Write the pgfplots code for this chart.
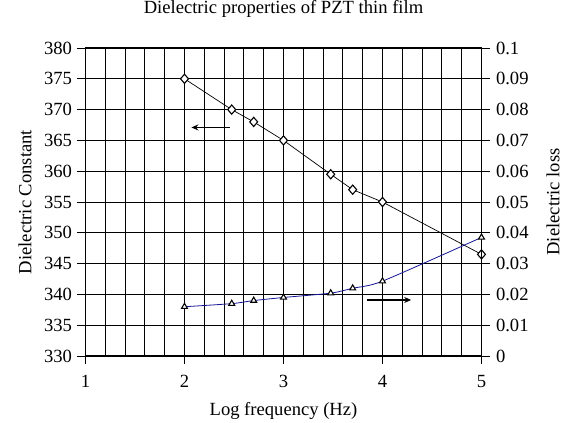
\documentclass[border=0pt]{standalone}
\usepackage{pgfplots}
\pgfplotsset{compat=1.18}
\usepackage{fontspec}
\setmainfont{Liberation Serif}
\usetikzlibrary{arrows.meta}
\definecolor{lossblue}{RGB}{20,20,150}
\begin{document}
\begin{tikzpicture}[font=\fontsize{18.6}{21}\selectfont]
\path[use as bounding box] (-85.5pt,-67pt) rectangle (482.5pt,356pt);
\begin{axis}[
  at={(0pt,0pt)}, anchor=south west,
  scale only axis, width=396pt, height=308pt,
  xmin=1, xmax=5, ymin=330, ymax=380,
  xtick={1,2,3,4,5},
  minor xtick={1.2,1.4,1.6,1.8,2.2,2.4,2.6,2.8,3.2,3.4,3.6,3.8,4.2,4.4,4.6,4.8},
  ytick={330,335,...,380},
  xtick pos=bottom, ytick pos=left,
  tick align=outside, major tick length=8pt, minor tick length=0pt,
  grid=both,
  major grid style={black, line width=0.8pt},
  minor grid style={black, line width=0.8pt},
  axis line style={black, line width=1.3pt},
  tick style={black, line width=0.9pt},
  /pgf/number format/assume math mode=true,
  xticklabel style={yshift=-8pt},
  yticklabel style={xshift=-2pt},
  clip=false,
  title={Dielectric properties of PZT thin film},
  title style={at={(axis description cs:0.5,1.107)}, anchor=center},
  xlabel={Log frequency (Hz)},
  xlabel style={at={(axis description cs:0.5,-0.1786)}, anchor=center},
  ylabel={Dielectric Constant},
  ylabel style={at={(axis description cs:-0.1528,0.5)}, anchor=center},
]
\addplot[black, line width=0.7pt, mark=diamond*, mark size=4.6pt,
  mark options={fill=white, line width=1.1pt, xscale=1.15}]
  coordinates {(2,375) (2.477,370) (2.699,368) (3,365) (3.477,359.5) (3.699,357) (4,355) (5,346.5)};
\draw[-{Stealth[length=7pt,width=6pt]}, line width=1.4pt] (axis cs:2.455,367.1) -- (axis cs:2.07,367.1);
\draw[-{Stealth[length=7pt,width=6pt]}, line width=1.4pt] (axis cs:3.84,339.1) -- (axis cs:4.29,339.1);
\end{axis}
\begin{axis}[
  at={(0pt,0pt)}, anchor=south west,
  scale only axis, width=396pt, height=308pt,
  xmin=1, xmax=5, ymin=0, ymax=0.1,
  axis x line=none, axis y line*=right,
  ytick={0,0.01,...,0.1},
  yticklabels={0,0.01,0.02,0.03,0.04,0.05,0.06,0.07,0.08,0.09,0.1},
  scaled y ticks=false,
  tick align=outside, major tick length=8pt,
  axis line style={black, line width=1.3pt},
  tick style={black, line width=0.9pt},
  yticklabel style={xshift=3pt},
  /pgf/number format/assume math mode=true,
  clip=false,
  ylabel={Dielectric loss},
  ylabel style={at={(axis description cs:1.1806,0.5)}, anchor=center},
]
\addplot[lossblue, line width=0.8pt, smooth, tension=0.4, mark=triangle*, mark size=3.4pt,
  mark options={fill=white, draw=black, line width=1.1pt}]
  coordinates {(2,0.016) (2.477,0.017) (2.699,0.018) (3,0.019) (3.477,0.0204) (3.699,0.022) (4,0.0243) (5,0.0385)};
\end{axis}
\end{tikzpicture}
\end{document}
